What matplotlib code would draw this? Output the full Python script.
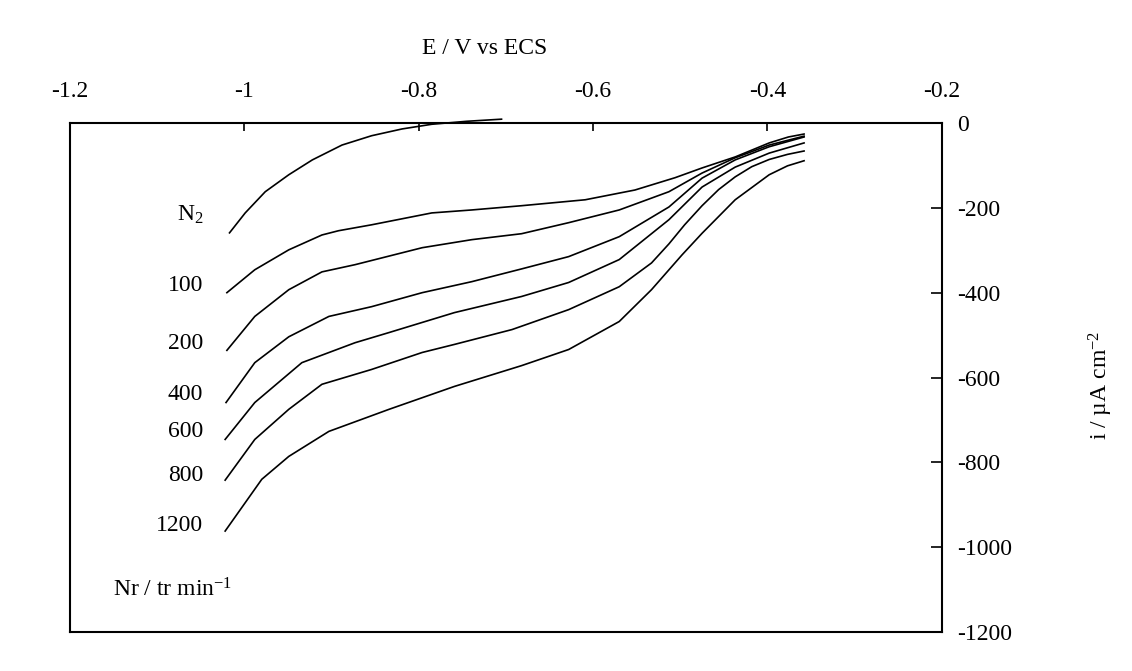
import matplotlib
matplotlib.use("Agg")
import matplotlib.pyplot as plt

plt.rcParams["font.family"] = ["Liberation Serif", "DejaVu Serif"]
plt.rcParams["mathtext.fontset"] = "custom"
plt.rcParams["mathtext.rm"] = "Liberation Serif"
plt.rcParams["mathtext.it"] = "Liberation Serif:italic"
plt.rcParams["axes.unicode_minus"] = False

# -------------------------------
# Polarisation curves, E (V vs ECS) / i (uA cm-2)
# -------------------------------
E_n2 = [-1.017, -0.999, -0.976, -0.949, -0.922, -0.888, -0.854, -0.819, -0.785, -0.745, -0.705]
i_n2 = [-259, -212, -162, -122, -87, -52, -30, -14, -3, 4, 9]

E_100 = [-1.020, -0.988, -0.949, -0.911, -0.892, -0.854, -0.785, -0.739, -0.682,
         -0.609, -0.552, -0.506, -0.475, -0.437, -0.398, -0.376, -0.358]
i_100 = [-400, -346, -299, -264, -254, -240, -212, -205, -195,
         -181, -158, -129, -106, -80, -47, -33, -26]

E_200 = [-1.020, -0.988, -0.949, -0.911, -0.873, -0.796, -0.739, -0.682,
         -0.628, -0.570, -0.513, -0.475, -0.437, -0.398, -0.358]
i_200 = [-536, -456, -393, -351, -334, -294, -275, -261,
         -235, -205, -162, -118, -82, -52, -31]

E_400 = [-1.021, -0.988, -0.949, -0.903, -0.854, -0.796, -0.739, -0.682,
         -0.628, -0.570, -0.513, -0.475, -0.437, -0.398, -0.358]
i_400 = [-659, -565, -504, -456, -433, -400, -374, -344,
         -315, -268, -198, -130, -87, -56, -33]

E_600 = [-1.022, -0.988, -0.934, -0.873, -0.834, -0.759, -0.682,
         -0.628, -0.570, -0.513, -0.475, -0.437, -0.398, -0.358]
i_600 = [-746, -659, -565, -518, -494, -447, -409,
         -376, -322, -228, -151, -104, -71, -47]

E_800 = [-1.022, -0.988, -0.949, -0.911, -0.854, -0.796, -0.759, -0.693,
         -0.628, -0.570, -0.533, -0.513, -0.495, -0.475, -0.456, -0.437,
         -0.418, -0.398, -0.377, -0.358]
i_800 = [-842, -746, -675, -616, -581, -541, -522, -487,
         -440, -386, -330, -285, -240, -195, -157, -127,
         -103, -86, -74, -66]

E_1200 = [-1.022, -0.980, -0.949, -0.903, -0.834, -0.759, -0.682, -0.628,
          -0.570, -0.533, -0.498, -0.475, -0.437, -0.398, -0.377, -0.358]
i_1200 = [-962, -840, -786, -727, -675, -621, -572, -534,
          -468, -393, -311, -260, -181, -122, -101, -89]

curves = [(E_n2, i_n2), (E_100, i_100), (E_200, i_200), (E_400, i_400),
          (E_600, i_600), (E_800, i_800), (E_1200, i_1200)]

# curve labels (rotation speed) and where they sit
curve_labels = ["N$_2$", "100", "200", "400", "600", "800", "1200"]
label_i = [-217, -384, -519, -641, -728, -830, -948]

x_ticks = [-1.2, -1.0, -0.8, -0.6, -0.4, -0.2]
x_ticklabels = ["-1.2", "-1", "-0.8", "-0.6", "-0.4", "-0.2"]
y_ticks = [0, -200, -400, -600, -800, -1000, -1200]
y_ticklabels = ["0", "-200", "-400", "-600", "-800", "-1000", "-1200"]

FS = 17

fig = plt.figure(figsize=(11.32, 6.71), dpi=100)
ax = fig.add_axes([0.0618, 0.0581, 0.7702, 0.7586])

for E, i in curves:
    ax.plot(E, i, color="black", lw=1.2, clip_on=False)

for lab, yv in zip(curve_labels, label_i):
    ax.text(-1.047, yv, lab, ha="right", va="center", fontsize=FS)

ax.text(-1.151, -1101, "Nr / tr min$^{-1}$", ha="left", va="center", fontsize=FS)

ax.set_xlim(-1.2, -0.2)
ax.set_ylim(-1200, 0)

ax.xaxis.tick_top()
ax.yaxis.tick_right()
ax.set_xticks(x_ticks)
ax.set_xticklabels(x_ticklabels)
ax.set_yticks(y_ticks)
ax.set_yticklabels(y_ticklabels)
ax.tick_params(axis="x", direction="in", length=6, width=1.2, pad=15, labelsize=FS)
ax.tick_params(axis="y", direction="in", length=8, width=1.2, pad=11, labelsize=FS)
for lab in ax.get_yticklabels():
    lab.set_horizontalalignment("left")

for sp in ax.spines.values():
    sp.set_linewidth(1.5)

ax.set_xlabel("E / V vs ECS", fontsize=FS)
ax.xaxis.set_label_position("top")
ax.xaxis.set_label_coords(0.476, 1.147)
ax.xaxis.label.set_va("center")

ax.text(1.182, 0.485, "i / µA cm$^{-2}$", transform=ax.transAxes, rotation=90,
        ha="center", va="center", fontsize=FS)

fig.savefig("out.png", dpi=100, facecolor="white")
